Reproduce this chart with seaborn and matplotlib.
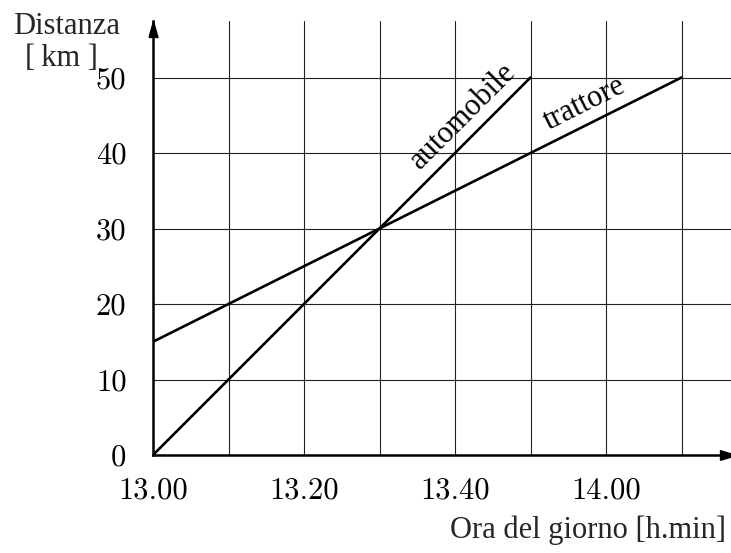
import matplotlib
matplotlib.use("Agg")
import matplotlib.pyplot as plt
import seaborn as sns
import pandas as pd

# ---- data ----
series_names = ["automobile", "trattore"]
auto_minutes = [0, 50]
auto_km = [0, 50]
tratt_minutes = [0, 70]
tratt_km = [15, 50]
x_tick_values = [0, 10, 20, 30, 40, 50, 60, 70]
x_tick_labels = ["13.00", "", "13.20", "", "13.40", "", "14.00", ""]
y_tick_values = [0, 10, 20, 30, 40, 50]
y_tick_labels = ["0", "10", "20", "30", "40", "50"]

df = pd.DataFrame({
    "min": auto_minutes + tratt_minutes,
    "km": auto_km + tratt_km,
    "veicolo": [series_names[0]] * len(auto_minutes) + [series_names[1]] * len(tratt_minutes),
})

sns.set_theme(style="white")
plt.rcParams['font.family'] = ['cmr10', 'DejaVu Serif']
plt.rcParams['mathtext.fontset'] = 'cm'
TEXT_FONT = ['Liberation Serif', 'DejaVu Serif']

W, H = 731, 553
fig = plt.figure(figsize=(W / 100, H / 100), dpi=100)
ax = fig.add_axes([153 / W, (H - 455) / H, (731 - 153) / W, (455 - 21) / H])
ax.set_xlim(0, 578 / 7.55)
ax.set_ylim(0, 434 / 7.55)

sns.lineplot(data=df, x="min", y="km", hue="veicolo", palette=["black", "black"],
             linewidth=1.9, legend=False, ax=ax, zorder=3)

ax.set_xticks(x_tick_values)
ax.set_xticklabels(x_tick_labels)
ax.set_yticks(y_tick_values)
ax.set_yticklabels(y_tick_labels)
ax.tick_params(axis="both", length=0, labelsize=22, colors="black")
ax.tick_params(axis="x", pad=16)
ax.tick_params(axis="y", pad=19)
ax.grid(True, color="#222222", linewidth=0.8)
ax.set_xlabel("")
ax.set_ylabel("")

for s in ["top", "right"]:
    ax.spines[s].set_visible(False)
for s in ["left", "bottom"]:
    ax.spines[s].set_color("black")
    ax.spines[s].set_linewidth(1.8)
    ax.spines[s].set_zorder(4)

# arrow heads (tip at the end of the axis)
up_arrow = [(-4.5, -16), (4.5, -16), (0, 0), (-4.5, -16)]
right_arrow = [(-16, -4.8), (-16, 4.8), (0, 0), (-16, -4.8)]
ax.plot(0, 1, marker=up_arrow, color="black", markersize=23, transform=ax.transAxes,
        clip_on=False, zorder=5)
ax.plot(1 + 5 / 578, 0, marker=right_arrow, color="black", markersize=23, transform=ax.transAxes,
        clip_on=False, zorder=5)

# line labels
ax.text(41.1, 44.9, "automobile", rotation=45, rotation_mode="anchor",
        ha="center", va="center", fontsize=22, color="black", family=TEXT_FONT)
ax.text(57.2, 46.6, "trattore", rotation=26.57, rotation_mode="anchor",
        ha="center", va="center", fontsize=22, color="black", family=TEXT_FONT)

# axis titles
fig.text(67 / W, 1 - 26 / H, "Distanza", ha="center", va="center", fontsize=22, family=TEXT_FONT)
fig.text(61 / W, 1 - 59 / H, "[\u2009km ]", ha="center", va="center", fontsize=22, family=TEXT_FONT)
fig.text(726 / W, 1 - 530 / H, "Ora del giorno [h.min]", ha="right", va="center",
         fontsize=22, family=TEXT_FONT)

fig.savefig("out.png", dpi=100)
